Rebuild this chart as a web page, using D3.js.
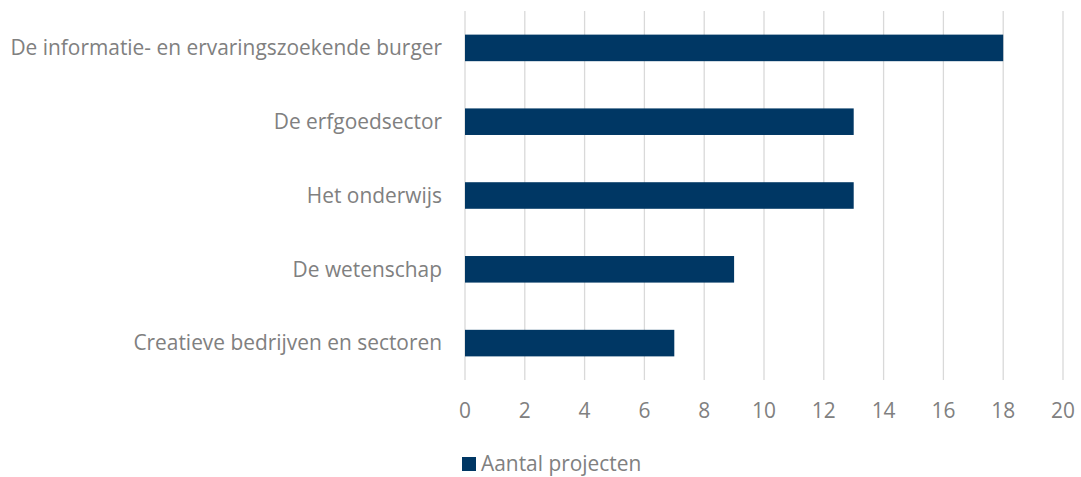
<html lang="nl">
  <head>
    <meta charset="utf-8">
    <title>Aantal projecten</title>
    <script src="https://d3js.org/d3.v7.min.js"></script>
    <style>
      body { margin: 0; background: #fff; }
      text { font-family: "Open Sans", sans-serif; fill: #808080; }
      .cat { font-size: 20.9px; }
      .tick-label { font-size: 20.9px; }
      .legend { font-size: 20.9px; }
    </style>
  </head>
  <body>
    <script>
    var categories = [
      "De informatie- en ervaringszoekende burger",
      "De erfgoedsector",
      "Het onderwijs",
      "De wetenschap",
      "Creatieve bedrijven en sectoren"
    ];
    var values = [18, 13, 13, 9, 7];
    var xTicks = [0, 2, 4, 6, 8, 10, 12, 14, 16, 18, 20];
    var seriesName = "Aantal projecten";

    var w = 1081, h = 477;
    var plotLeft = 465, plotRight = 1063, plotTop = 11, plotBottom = 380;
    var barColor = "#003764";

    var svg = d3.select("body").append("svg")
      .attr("width", w)
      .attr("height", h);

    var x = d3.scaleLinear().domain([0, 20]).range([plotLeft, plotRight]);
    var y = d3.scaleBand().domain(categories).range([plotTop, plotBottom]).paddingInner(0.64).paddingOuter(0.32);

    // gridlines
    svg.selectAll("line.grid")
      .data(xTicks)
      .enter()
      .append("line")
      .attr("class", "grid")
      .attr("x1", function(d) { return x(d); })
      .attr("x2", function(d) { return x(d); })
      .attr("y1", plotTop)
      .attr("y2", plotBottom)
      .attr("stroke", "#d9d9d9")
      .attr("stroke-width", 1.3);

    // bars
    svg.selectAll("rect.bar")
      .data(values)
      .enter()
      .append("rect")
      .attr("class", "bar")
      .attr("x", x(0))
      .attr("y", function(d, i) { return y(categories[i]); })
      .attr("width", function(d) { return x(d) - x(0); })
      .attr("height", y.bandwidth())
      .attr("fill", barColor);

    // category labels
    svg.selectAll("text.cat")
      .data(categories)
      .enter()
      .append("text")
      .attr("class", "cat")
      .attr("x", plotLeft - 23)
      .attr("y", function(d) { return y(d) + y.bandwidth() / 2; })
      .attr("dy", "0.35em")
      .attr("text-anchor", "end")
      .text(function(d) { return d; });

    // x tick labels
    svg.selectAll("text.tick-label")
      .data(xTicks)
      .enter()
      .append("text")
      .attr("class", "tick-label")
      .attr("x", function(d) { return x(d); })
      .attr("y", 411)
      .attr("dy", "0.35em")
      .attr("text-anchor", "middle")
      .text(function(d) { return d; });

    // legend
    var lg = svg.append("g").attr("transform", "translate(462,457)");
    lg.append("rect").attr("width", 14).attr("height", 14).attr("fill", barColor);
    lg.append("text").attr("class", "legend").attr("x", 19).attr("y", 7).attr("dy", "0.35em").text(seriesName);
    </script>
  </body>
</html>
